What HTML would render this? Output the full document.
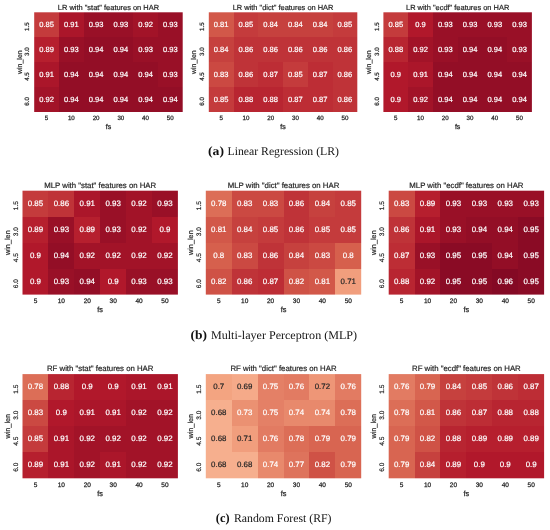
<!DOCTYPE html>
<html><head><meta charset="utf-8"><style>
html,body{margin:0;padding:0;background:#fff;}
body{width:550px;height:530px;overflow:hidden;}
svg{display:block;font-family:"Liberation Sans",sans-serif;text-rendering:geometricPrecision;will-change:transform;}
</style></head><body>
<svg width="550" height="530" viewBox="0 0 550 530">
<rect width="550" height="530" fill="#fff"/>
<rect x="34.20" y="12.30" width="24.80" height="24.70" fill="#c43b3c"/>
<rect x="59.00" y="12.30" width="25.00" height="24.70" fill="#ab162a"/>
<rect x="84.00" y="12.30" width="24.00" height="24.70" fill="#991027"/>
<rect x="108.00" y="12.30" width="25.00" height="24.70" fill="#991027"/>
<rect x="133.00" y="12.30" width="25.00" height="24.70" fill="#a21328"/>
<rect x="158.00" y="12.30" width="24.70" height="24.70" fill="#991027"/>
<rect x="34.20" y="37.00" width="24.80" height="25.00" fill="#b61f2e"/>
<rect x="59.00" y="37.00" width="25.00" height="25.00" fill="#991027"/>
<rect x="84.00" y="37.00" width="24.00" height="25.00" fill="#930e26"/>
<rect x="108.00" y="37.00" width="25.00" height="25.00" fill="#930e26"/>
<rect x="133.00" y="37.00" width="25.00" height="25.00" fill="#991027"/>
<rect x="158.00" y="37.00" width="24.70" height="25.00" fill="#991027"/>
<rect x="34.20" y="62.00" width="24.80" height="25.00" fill="#ab162a"/>
<rect x="59.00" y="62.00" width="25.00" height="25.00" fill="#930e26"/>
<rect x="84.00" y="62.00" width="24.00" height="25.00" fill="#930e26"/>
<rect x="108.00" y="62.00" width="25.00" height="25.00" fill="#930e26"/>
<rect x="133.00" y="62.00" width="25.00" height="25.00" fill="#930e26"/>
<rect x="158.00" y="62.00" width="24.70" height="25.00" fill="#991027"/>
<rect x="34.20" y="87.00" width="24.80" height="25.00" fill="#a21328"/>
<rect x="59.00" y="87.00" width="25.00" height="25.00" fill="#930e26"/>
<rect x="84.00" y="87.00" width="24.00" height="25.00" fill="#930e26"/>
<rect x="108.00" y="87.00" width="25.00" height="25.00" fill="#930e26"/>
<rect x="133.00" y="87.00" width="25.00" height="25.00" fill="#930e26"/>
<rect x="158.00" y="87.00" width="24.70" height="25.00" fill="#930e26"/>
<text x="46.58" y="26.80" font-size="7.54" text-anchor="middle" fill="#ffffff" stroke="#ffffff" stroke-width="0.2">0.85</text>
<text x="71.33" y="26.80" font-size="7.54" text-anchor="middle" fill="#ffffff" stroke="#ffffff" stroke-width="0.2">0.91</text>
<text x="96.08" y="26.80" font-size="7.54" text-anchor="middle" fill="#ffffff" stroke="#ffffff" stroke-width="0.2">0.93</text>
<text x="120.83" y="26.80" font-size="7.54" text-anchor="middle" fill="#ffffff" stroke="#ffffff" stroke-width="0.2">0.93</text>
<text x="145.57" y="26.80" font-size="7.54" text-anchor="middle" fill="#ffffff" stroke="#ffffff" stroke-width="0.2">0.92</text>
<text x="170.32" y="26.80" font-size="7.54" text-anchor="middle" fill="#ffffff" stroke="#ffffff" stroke-width="0.2">0.93</text>
<text x="46.58" y="51.72" font-size="7.54" text-anchor="middle" fill="#ffffff" stroke="#ffffff" stroke-width="0.2">0.89</text>
<text x="71.33" y="51.72" font-size="7.54" text-anchor="middle" fill="#ffffff" stroke="#ffffff" stroke-width="0.2">0.93</text>
<text x="96.08" y="51.72" font-size="7.54" text-anchor="middle" fill="#ffffff" stroke="#ffffff" stroke-width="0.2">0.94</text>
<text x="120.83" y="51.72" font-size="7.54" text-anchor="middle" fill="#ffffff" stroke="#ffffff" stroke-width="0.2">0.94</text>
<text x="145.57" y="51.72" font-size="7.54" text-anchor="middle" fill="#ffffff" stroke="#ffffff" stroke-width="0.2">0.93</text>
<text x="170.32" y="51.72" font-size="7.54" text-anchor="middle" fill="#ffffff" stroke="#ffffff" stroke-width="0.2">0.93</text>
<text x="46.58" y="76.65" font-size="7.54" text-anchor="middle" fill="#ffffff" stroke="#ffffff" stroke-width="0.2">0.91</text>
<text x="71.33" y="76.65" font-size="7.54" text-anchor="middle" fill="#ffffff" stroke="#ffffff" stroke-width="0.2">0.94</text>
<text x="96.08" y="76.65" font-size="7.54" text-anchor="middle" fill="#ffffff" stroke="#ffffff" stroke-width="0.2">0.94</text>
<text x="120.83" y="76.65" font-size="7.54" text-anchor="middle" fill="#ffffff" stroke="#ffffff" stroke-width="0.2">0.94</text>
<text x="145.57" y="76.65" font-size="7.54" text-anchor="middle" fill="#ffffff" stroke="#ffffff" stroke-width="0.2">0.94</text>
<text x="170.32" y="76.65" font-size="7.54" text-anchor="middle" fill="#ffffff" stroke="#ffffff" stroke-width="0.2">0.93</text>
<text x="46.58" y="101.57" font-size="7.54" text-anchor="middle" fill="#ffffff" stroke="#ffffff" stroke-width="0.2">0.92</text>
<text x="71.33" y="101.57" font-size="7.54" text-anchor="middle" fill="#ffffff" stroke="#ffffff" stroke-width="0.2">0.94</text>
<text x="96.08" y="101.57" font-size="7.54" text-anchor="middle" fill="#ffffff" stroke="#ffffff" stroke-width="0.2">0.94</text>
<text x="120.83" y="101.57" font-size="7.54" text-anchor="middle" fill="#ffffff" stroke="#ffffff" stroke-width="0.2">0.94</text>
<text x="145.57" y="101.57" font-size="7.54" text-anchor="middle" fill="#ffffff" stroke="#ffffff" stroke-width="0.2">0.94</text>
<text x="170.32" y="101.57" font-size="7.54" text-anchor="middle" fill="#ffffff" stroke="#ffffff" stroke-width="0.2">0.94</text>
<text x="108.45" y="9.90" font-size="7.45" text-anchor="middle" fill="#262626" stroke="#262626" stroke-width="0.2">LR with &quot;stat&quot; features on HAR</text>
<text x="46.58" y="119.83" font-size="6.21" text-anchor="middle" fill="#262626" stroke="#262626" stroke-width="0.25">5</text>
<text x="71.33" y="119.83" font-size="6.21" text-anchor="middle" fill="#262626" stroke="#262626" stroke-width="0.25">10</text>
<text x="96.08" y="119.83" font-size="6.21" text-anchor="middle" fill="#262626" stroke="#262626" stroke-width="0.25">20</text>
<text x="120.83" y="119.83" font-size="6.21" text-anchor="middle" fill="#262626" stroke="#262626" stroke-width="0.25">30</text>
<text x="145.57" y="119.83" font-size="6.21" text-anchor="middle" fill="#262626" stroke="#262626" stroke-width="0.25">40</text>
<text x="170.32" y="119.83" font-size="6.21" text-anchor="middle" fill="#262626" stroke="#262626" stroke-width="0.25">50</text>
<text x="108.45" y="128.62" font-size="6.97" text-anchor="middle" fill="#262626" stroke="#262626" stroke-width="0.25">fs</text>
<text transform="translate(29.33,26.67) rotate(-90) scale(1,1.0)" font-size="6.21" text-anchor="middle" fill="#262626" stroke="#262626" stroke-width="0.2">1.5</text>
<text transform="translate(29.33,51.60) rotate(-90) scale(1,1.0)" font-size="6.21" text-anchor="middle" fill="#262626" stroke="#262626" stroke-width="0.2">3.0</text>
<text transform="translate(29.33,76.52) rotate(-90) scale(1,1.0)" font-size="6.21" text-anchor="middle" fill="#262626" stroke="#262626" stroke-width="0.2">4.5</text>
<text transform="translate(29.33,101.45) rotate(-90) scale(1,1.0)" font-size="6.21" text-anchor="middle" fill="#262626" stroke="#262626" stroke-width="0.2">6.0</text>
<text transform="translate(21.79,62.15) rotate(-90) scale(1,1.0)" font-size="6.97" text-anchor="middle" fill="#262626" stroke="#262626" stroke-width="0.2">win_len</text>
<rect x="208.80" y="12.30" width="25.20" height="24.70" fill="#d25849"/>
<rect x="234.00" y="12.30" width="24.00" height="24.70" fill="#c43b3c"/>
<rect x="258.00" y="12.30" width="25.00" height="24.70" fill="#c6413e"/>
<rect x="283.00" y="12.30" width="25.00" height="24.70" fill="#c6413e"/>
<rect x="308.00" y="12.30" width="25.00" height="24.70" fill="#c6413e"/>
<rect x="333.00" y="12.30" width="24.30" height="24.70" fill="#c43b3c"/>
<rect x="208.80" y="37.00" width="25.20" height="25.00" fill="#c6413e"/>
<rect x="234.00" y="37.00" width="24.00" height="25.00" fill="#bf3338"/>
<rect x="258.00" y="37.00" width="25.00" height="25.00" fill="#bf3338"/>
<rect x="283.00" y="37.00" width="25.00" height="25.00" fill="#bf3338"/>
<rect x="308.00" y="37.00" width="25.00" height="25.00" fill="#bf3338"/>
<rect x="333.00" y="37.00" width="24.30" height="25.00" fill="#bf3338"/>
<rect x="208.80" y="62.00" width="25.20" height="25.00" fill="#cb4942"/>
<rect x="234.00" y="62.00" width="24.00" height="25.00" fill="#bf3338"/>
<rect x="258.00" y="62.00" width="25.00" height="25.00" fill="#bd2d35"/>
<rect x="283.00" y="62.00" width="25.00" height="25.00" fill="#c43b3c"/>
<rect x="308.00" y="62.00" width="25.00" height="25.00" fill="#bd2d35"/>
<rect x="333.00" y="62.00" width="24.30" height="25.00" fill="#bf3338"/>
<rect x="208.80" y="87.00" width="25.20" height="25.00" fill="#c43b3c"/>
<rect x="234.00" y="87.00" width="24.00" height="25.00" fill="#b82531"/>
<rect x="258.00" y="87.00" width="25.00" height="25.00" fill="#b82531"/>
<rect x="283.00" y="87.00" width="25.00" height="25.00" fill="#bd2d35"/>
<rect x="308.00" y="87.00" width="25.00" height="25.00" fill="#bd2d35"/>
<rect x="333.00" y="87.00" width="24.30" height="25.00" fill="#bf3338"/>
<text x="221.18" y="26.80" font-size="7.54" text-anchor="middle" fill="#ffffff" stroke="#ffffff" stroke-width="0.2">0.81</text>
<text x="245.93" y="26.80" font-size="7.54" text-anchor="middle" fill="#ffffff" stroke="#ffffff" stroke-width="0.2">0.85</text>
<text x="270.68" y="26.80" font-size="7.54" text-anchor="middle" fill="#ffffff" stroke="#ffffff" stroke-width="0.2">0.84</text>
<text x="295.43" y="26.80" font-size="7.54" text-anchor="middle" fill="#ffffff" stroke="#ffffff" stroke-width="0.2">0.84</text>
<text x="320.18" y="26.80" font-size="7.54" text-anchor="middle" fill="#ffffff" stroke="#ffffff" stroke-width="0.2">0.84</text>
<text x="344.93" y="26.80" font-size="7.54" text-anchor="middle" fill="#ffffff" stroke="#ffffff" stroke-width="0.2">0.85</text>
<text x="221.18" y="51.72" font-size="7.54" text-anchor="middle" fill="#ffffff" stroke="#ffffff" stroke-width="0.2">0.84</text>
<text x="245.93" y="51.72" font-size="7.54" text-anchor="middle" fill="#ffffff" stroke="#ffffff" stroke-width="0.2">0.86</text>
<text x="270.68" y="51.72" font-size="7.54" text-anchor="middle" fill="#ffffff" stroke="#ffffff" stroke-width="0.2">0.86</text>
<text x="295.43" y="51.72" font-size="7.54" text-anchor="middle" fill="#ffffff" stroke="#ffffff" stroke-width="0.2">0.86</text>
<text x="320.18" y="51.72" font-size="7.54" text-anchor="middle" fill="#ffffff" stroke="#ffffff" stroke-width="0.2">0.86</text>
<text x="344.93" y="51.72" font-size="7.54" text-anchor="middle" fill="#ffffff" stroke="#ffffff" stroke-width="0.2">0.86</text>
<text x="221.18" y="76.65" font-size="7.54" text-anchor="middle" fill="#ffffff" stroke="#ffffff" stroke-width="0.2">0.83</text>
<text x="245.93" y="76.65" font-size="7.54" text-anchor="middle" fill="#ffffff" stroke="#ffffff" stroke-width="0.2">0.86</text>
<text x="270.68" y="76.65" font-size="7.54" text-anchor="middle" fill="#ffffff" stroke="#ffffff" stroke-width="0.2">0.87</text>
<text x="295.43" y="76.65" font-size="7.54" text-anchor="middle" fill="#ffffff" stroke="#ffffff" stroke-width="0.2">0.85</text>
<text x="320.18" y="76.65" font-size="7.54" text-anchor="middle" fill="#ffffff" stroke="#ffffff" stroke-width="0.2">0.87</text>
<text x="344.93" y="76.65" font-size="7.54" text-anchor="middle" fill="#ffffff" stroke="#ffffff" stroke-width="0.2">0.86</text>
<text x="221.18" y="101.57" font-size="7.54" text-anchor="middle" fill="#ffffff" stroke="#ffffff" stroke-width="0.2">0.85</text>
<text x="245.93" y="101.57" font-size="7.54" text-anchor="middle" fill="#ffffff" stroke="#ffffff" stroke-width="0.2">0.88</text>
<text x="270.68" y="101.57" font-size="7.54" text-anchor="middle" fill="#ffffff" stroke="#ffffff" stroke-width="0.2">0.88</text>
<text x="295.43" y="101.57" font-size="7.54" text-anchor="middle" fill="#ffffff" stroke="#ffffff" stroke-width="0.2">0.87</text>
<text x="320.18" y="101.57" font-size="7.54" text-anchor="middle" fill="#ffffff" stroke="#ffffff" stroke-width="0.2">0.87</text>
<text x="344.93" y="101.57" font-size="7.54" text-anchor="middle" fill="#ffffff" stroke="#ffffff" stroke-width="0.2">0.86</text>
<text x="283.05" y="9.90" font-size="7.45" text-anchor="middle" fill="#262626" stroke="#262626" stroke-width="0.2">LR with &quot;dict&quot; features on HAR</text>
<text x="221.18" y="119.83" font-size="6.21" text-anchor="middle" fill="#262626" stroke="#262626" stroke-width="0.25">5</text>
<text x="245.93" y="119.83" font-size="6.21" text-anchor="middle" fill="#262626" stroke="#262626" stroke-width="0.25">10</text>
<text x="270.68" y="119.83" font-size="6.21" text-anchor="middle" fill="#262626" stroke="#262626" stroke-width="0.25">20</text>
<text x="295.43" y="119.83" font-size="6.21" text-anchor="middle" fill="#262626" stroke="#262626" stroke-width="0.25">30</text>
<text x="320.18" y="119.83" font-size="6.21" text-anchor="middle" fill="#262626" stroke="#262626" stroke-width="0.25">40</text>
<text x="344.93" y="119.83" font-size="6.21" text-anchor="middle" fill="#262626" stroke="#262626" stroke-width="0.25">50</text>
<text x="283.05" y="128.62" font-size="6.97" text-anchor="middle" fill="#262626" stroke="#262626" stroke-width="0.25">fs</text>
<text transform="translate(203.93,26.67) rotate(-90) scale(1,1.0)" font-size="6.21" text-anchor="middle" fill="#262626" stroke="#262626" stroke-width="0.2">1.5</text>
<text transform="translate(203.93,51.60) rotate(-90) scale(1,1.0)" font-size="6.21" text-anchor="middle" fill="#262626" stroke="#262626" stroke-width="0.2">3.0</text>
<text transform="translate(203.93,76.52) rotate(-90) scale(1,1.0)" font-size="6.21" text-anchor="middle" fill="#262626" stroke="#262626" stroke-width="0.2">4.5</text>
<text transform="translate(203.93,101.45) rotate(-90) scale(1,1.0)" font-size="6.21" text-anchor="middle" fill="#262626" stroke="#262626" stroke-width="0.2">6.0</text>
<text transform="translate(196.39,62.15) rotate(-90) scale(1,1.0)" font-size="6.97" text-anchor="middle" fill="#262626" stroke="#262626" stroke-width="0.2">win_len</text>
<rect x="383.40" y="12.30" width="24.60" height="24.70" fill="#c43b3c"/>
<rect x="408.00" y="12.30" width="25.00" height="24.70" fill="#b1182b"/>
<rect x="433.00" y="12.30" width="25.00" height="24.70" fill="#991027"/>
<rect x="458.00" y="12.30" width="24.00" height="24.70" fill="#991027"/>
<rect x="482.00" y="12.30" width="25.00" height="24.70" fill="#991027"/>
<rect x="507.00" y="12.30" width="24.90" height="24.70" fill="#991027"/>
<rect x="383.40" y="37.00" width="24.60" height="25.00" fill="#b82531"/>
<rect x="408.00" y="37.00" width="25.00" height="25.00" fill="#a21328"/>
<rect x="433.00" y="37.00" width="25.00" height="25.00" fill="#991027"/>
<rect x="458.00" y="37.00" width="24.00" height="25.00" fill="#930e26"/>
<rect x="482.00" y="37.00" width="25.00" height="25.00" fill="#930e26"/>
<rect x="507.00" y="37.00" width="24.90" height="25.00" fill="#991027"/>
<rect x="383.40" y="62.00" width="24.60" height="25.00" fill="#b1182b"/>
<rect x="408.00" y="62.00" width="25.00" height="25.00" fill="#ab162a"/>
<rect x="433.00" y="62.00" width="25.00" height="25.00" fill="#930e26"/>
<rect x="458.00" y="62.00" width="24.00" height="25.00" fill="#930e26"/>
<rect x="482.00" y="62.00" width="25.00" height="25.00" fill="#930e26"/>
<rect x="507.00" y="62.00" width="24.90" height="25.00" fill="#930e26"/>
<rect x="383.40" y="87.00" width="24.60" height="25.00" fill="#b1182b"/>
<rect x="408.00" y="87.00" width="25.00" height="25.00" fill="#a21328"/>
<rect x="433.00" y="87.00" width="25.00" height="25.00" fill="#930e26"/>
<rect x="458.00" y="87.00" width="24.00" height="25.00" fill="#930e26"/>
<rect x="482.00" y="87.00" width="25.00" height="25.00" fill="#930e26"/>
<rect x="507.00" y="87.00" width="24.90" height="25.00" fill="#930e26"/>
<text x="395.77" y="26.80" font-size="7.54" text-anchor="middle" fill="#ffffff" stroke="#ffffff" stroke-width="0.2">0.85</text>
<text x="420.52" y="26.80" font-size="7.54" text-anchor="middle" fill="#ffffff" stroke="#ffffff" stroke-width="0.2">0.9</text>
<text x="445.27" y="26.80" font-size="7.54" text-anchor="middle" fill="#ffffff" stroke="#ffffff" stroke-width="0.2">0.93</text>
<text x="470.02" y="26.80" font-size="7.54" text-anchor="middle" fill="#ffffff" stroke="#ffffff" stroke-width="0.2">0.93</text>
<text x="494.77" y="26.80" font-size="7.54" text-anchor="middle" fill="#ffffff" stroke="#ffffff" stroke-width="0.2">0.93</text>
<text x="519.52" y="26.80" font-size="7.54" text-anchor="middle" fill="#ffffff" stroke="#ffffff" stroke-width="0.2">0.93</text>
<text x="395.77" y="51.72" font-size="7.54" text-anchor="middle" fill="#ffffff" stroke="#ffffff" stroke-width="0.2">0.88</text>
<text x="420.52" y="51.72" font-size="7.54" text-anchor="middle" fill="#ffffff" stroke="#ffffff" stroke-width="0.2">0.92</text>
<text x="445.27" y="51.72" font-size="7.54" text-anchor="middle" fill="#ffffff" stroke="#ffffff" stroke-width="0.2">0.93</text>
<text x="470.02" y="51.72" font-size="7.54" text-anchor="middle" fill="#ffffff" stroke="#ffffff" stroke-width="0.2">0.94</text>
<text x="494.77" y="51.72" font-size="7.54" text-anchor="middle" fill="#ffffff" stroke="#ffffff" stroke-width="0.2">0.94</text>
<text x="519.52" y="51.72" font-size="7.54" text-anchor="middle" fill="#ffffff" stroke="#ffffff" stroke-width="0.2">0.93</text>
<text x="395.77" y="76.65" font-size="7.54" text-anchor="middle" fill="#ffffff" stroke="#ffffff" stroke-width="0.2">0.9</text>
<text x="420.52" y="76.65" font-size="7.54" text-anchor="middle" fill="#ffffff" stroke="#ffffff" stroke-width="0.2">0.91</text>
<text x="445.27" y="76.65" font-size="7.54" text-anchor="middle" fill="#ffffff" stroke="#ffffff" stroke-width="0.2">0.94</text>
<text x="470.02" y="76.65" font-size="7.54" text-anchor="middle" fill="#ffffff" stroke="#ffffff" stroke-width="0.2">0.94</text>
<text x="494.77" y="76.65" font-size="7.54" text-anchor="middle" fill="#ffffff" stroke="#ffffff" stroke-width="0.2">0.94</text>
<text x="519.52" y="76.65" font-size="7.54" text-anchor="middle" fill="#ffffff" stroke="#ffffff" stroke-width="0.2">0.94</text>
<text x="395.77" y="101.57" font-size="7.54" text-anchor="middle" fill="#ffffff" stroke="#ffffff" stroke-width="0.2">0.9</text>
<text x="420.52" y="101.57" font-size="7.54" text-anchor="middle" fill="#ffffff" stroke="#ffffff" stroke-width="0.2">0.92</text>
<text x="445.27" y="101.57" font-size="7.54" text-anchor="middle" fill="#ffffff" stroke="#ffffff" stroke-width="0.2">0.94</text>
<text x="470.02" y="101.57" font-size="7.54" text-anchor="middle" fill="#ffffff" stroke="#ffffff" stroke-width="0.2">0.94</text>
<text x="494.77" y="101.57" font-size="7.54" text-anchor="middle" fill="#ffffff" stroke="#ffffff" stroke-width="0.2">0.94</text>
<text x="519.52" y="101.57" font-size="7.54" text-anchor="middle" fill="#ffffff" stroke="#ffffff" stroke-width="0.2">0.94</text>
<text x="457.65" y="9.90" font-size="7.45" text-anchor="middle" fill="#262626" stroke="#262626" stroke-width="0.2">LR with &quot;ecdf&quot; features on HAR</text>
<text x="395.77" y="119.83" font-size="6.21" text-anchor="middle" fill="#262626" stroke="#262626" stroke-width="0.25">5</text>
<text x="420.52" y="119.83" font-size="6.21" text-anchor="middle" fill="#262626" stroke="#262626" stroke-width="0.25">10</text>
<text x="445.27" y="119.83" font-size="6.21" text-anchor="middle" fill="#262626" stroke="#262626" stroke-width="0.25">20</text>
<text x="470.02" y="119.83" font-size="6.21" text-anchor="middle" fill="#262626" stroke="#262626" stroke-width="0.25">30</text>
<text x="494.77" y="119.83" font-size="6.21" text-anchor="middle" fill="#262626" stroke="#262626" stroke-width="0.25">40</text>
<text x="519.52" y="119.83" font-size="6.21" text-anchor="middle" fill="#262626" stroke="#262626" stroke-width="0.25">50</text>
<text x="457.65" y="128.62" font-size="6.97" text-anchor="middle" fill="#262626" stroke="#262626" stroke-width="0.25">fs</text>
<text transform="translate(378.53,26.67) rotate(-90) scale(1,1.0)" font-size="6.21" text-anchor="middle" fill="#262626" stroke="#262626" stroke-width="0.2">1.5</text>
<text transform="translate(378.53,51.60) rotate(-90) scale(1,1.0)" font-size="6.21" text-anchor="middle" fill="#262626" stroke="#262626" stroke-width="0.2">3.0</text>
<text transform="translate(378.53,76.52) rotate(-90) scale(1,1.0)" font-size="6.21" text-anchor="middle" fill="#262626" stroke="#262626" stroke-width="0.2">4.5</text>
<text transform="translate(378.53,101.45) rotate(-90) scale(1,1.0)" font-size="6.21" text-anchor="middle" fill="#262626" stroke="#262626" stroke-width="0.2">6.0</text>
<text transform="translate(370.98,62.15) rotate(-90) scale(1,1.0)" font-size="6.97" text-anchor="middle" fill="#262626" stroke="#262626" stroke-width="0.2">win_len</text>
<rect x="22.50" y="190.70" width="25.50" height="26.30" fill="#c43b3c"/>
<rect x="48.00" y="190.70" width="26.00" height="26.30" fill="#bf3338"/>
<rect x="74.00" y="190.70" width="26.00" height="26.30" fill="#ab162a"/>
<rect x="100.00" y="190.70" width="26.00" height="26.30" fill="#991027"/>
<rect x="126.00" y="190.70" width="26.00" height="26.30" fill="#a21328"/>
<rect x="152.00" y="190.70" width="25.90" height="26.30" fill="#991027"/>
<rect x="22.50" y="217.00" width="25.50" height="26.00" fill="#b61f2e"/>
<rect x="48.00" y="217.00" width="26.00" height="26.00" fill="#991027"/>
<rect x="74.00" y="217.00" width="26.00" height="26.00" fill="#b61f2e"/>
<rect x="100.00" y="217.00" width="26.00" height="26.00" fill="#991027"/>
<rect x="126.00" y="217.00" width="26.00" height="26.00" fill="#a21328"/>
<rect x="152.00" y="217.00" width="25.90" height="26.00" fill="#b1182b"/>
<rect x="22.50" y="243.00" width="25.50" height="26.00" fill="#b1182b"/>
<rect x="48.00" y="243.00" width="26.00" height="26.00" fill="#930e26"/>
<rect x="74.00" y="243.00" width="26.00" height="26.00" fill="#a21328"/>
<rect x="100.00" y="243.00" width="26.00" height="26.00" fill="#a21328"/>
<rect x="126.00" y="243.00" width="26.00" height="26.00" fill="#a21328"/>
<rect x="152.00" y="243.00" width="25.90" height="26.00" fill="#a21328"/>
<rect x="22.50" y="269.00" width="25.50" height="25.60" fill="#b1182b"/>
<rect x="48.00" y="269.00" width="26.00" height="25.60" fill="#991027"/>
<rect x="74.00" y="269.00" width="26.00" height="25.60" fill="#930e26"/>
<rect x="100.00" y="269.00" width="26.00" height="25.60" fill="#b1182b"/>
<rect x="126.00" y="269.00" width="26.00" height="25.60" fill="#991027"/>
<rect x="152.00" y="269.00" width="25.90" height="25.60" fill="#991027"/>
<text x="35.45" y="205.82" font-size="7.90" text-anchor="middle" fill="#ffffff" stroke="#ffffff" stroke-width="0.2">0.85</text>
<text x="61.35" y="205.82" font-size="7.90" text-anchor="middle" fill="#ffffff" stroke="#ffffff" stroke-width="0.2">0.86</text>
<text x="87.25" y="205.82" font-size="7.90" text-anchor="middle" fill="#ffffff" stroke="#ffffff" stroke-width="0.2">0.91</text>
<text x="113.15" y="205.82" font-size="7.90" text-anchor="middle" fill="#ffffff" stroke="#ffffff" stroke-width="0.2">0.93</text>
<text x="139.05" y="205.82" font-size="7.90" text-anchor="middle" fill="#ffffff" stroke="#ffffff" stroke-width="0.2">0.92</text>
<text x="164.95" y="205.82" font-size="7.90" text-anchor="middle" fill="#ffffff" stroke="#ffffff" stroke-width="0.2">0.93</text>
<text x="35.45" y="231.80" font-size="7.90" text-anchor="middle" fill="#ffffff" stroke="#ffffff" stroke-width="0.2">0.89</text>
<text x="61.35" y="231.80" font-size="7.90" text-anchor="middle" fill="#ffffff" stroke="#ffffff" stroke-width="0.2">0.93</text>
<text x="87.25" y="231.80" font-size="7.90" text-anchor="middle" fill="#ffffff" stroke="#ffffff" stroke-width="0.2">0.89</text>
<text x="113.15" y="231.80" font-size="7.90" text-anchor="middle" fill="#ffffff" stroke="#ffffff" stroke-width="0.2">0.93</text>
<text x="139.05" y="231.80" font-size="7.90" text-anchor="middle" fill="#ffffff" stroke="#ffffff" stroke-width="0.2">0.92</text>
<text x="164.95" y="231.80" font-size="7.90" text-anchor="middle" fill="#ffffff" stroke="#ffffff" stroke-width="0.2">0.9</text>
<text x="35.45" y="257.77" font-size="7.90" text-anchor="middle" fill="#ffffff" stroke="#ffffff" stroke-width="0.2">0.9</text>
<text x="61.35" y="257.77" font-size="7.90" text-anchor="middle" fill="#ffffff" stroke="#ffffff" stroke-width="0.2">0.94</text>
<text x="87.25" y="257.77" font-size="7.90" text-anchor="middle" fill="#ffffff" stroke="#ffffff" stroke-width="0.2">0.92</text>
<text x="113.15" y="257.77" font-size="7.90" text-anchor="middle" fill="#ffffff" stroke="#ffffff" stroke-width="0.2">0.92</text>
<text x="139.05" y="257.77" font-size="7.90" text-anchor="middle" fill="#ffffff" stroke="#ffffff" stroke-width="0.2">0.92</text>
<text x="164.95" y="257.77" font-size="7.90" text-anchor="middle" fill="#ffffff" stroke="#ffffff" stroke-width="0.2">0.92</text>
<text x="35.45" y="283.75" font-size="7.90" text-anchor="middle" fill="#ffffff" stroke="#ffffff" stroke-width="0.2">0.9</text>
<text x="61.35" y="283.75" font-size="7.90" text-anchor="middle" fill="#ffffff" stroke="#ffffff" stroke-width="0.2">0.93</text>
<text x="87.25" y="283.75" font-size="7.90" text-anchor="middle" fill="#ffffff" stroke="#ffffff" stroke-width="0.2">0.94</text>
<text x="113.15" y="283.75" font-size="7.90" text-anchor="middle" fill="#ffffff" stroke="#ffffff" stroke-width="0.2">0.9</text>
<text x="139.05" y="283.75" font-size="7.90" text-anchor="middle" fill="#ffffff" stroke="#ffffff" stroke-width="0.2">0.93</text>
<text x="164.95" y="283.75" font-size="7.90" text-anchor="middle" fill="#ffffff" stroke="#ffffff" stroke-width="0.2">0.93</text>
<text x="100.20" y="187.60" font-size="7.80" text-anchor="middle" fill="#262626" stroke="#262626" stroke-width="0.2">MLP with &quot;stat&quot; features on HAR</text>
<text x="35.45" y="302.80" font-size="6.50" text-anchor="middle" fill="#262626" stroke="#262626" stroke-width="0.25">5</text>
<text x="61.35" y="302.80" font-size="6.50" text-anchor="middle" fill="#262626" stroke="#262626" stroke-width="0.25">10</text>
<text x="87.25" y="302.80" font-size="6.50" text-anchor="middle" fill="#262626" stroke="#262626" stroke-width="0.25">20</text>
<text x="113.15" y="302.80" font-size="6.50" text-anchor="middle" fill="#262626" stroke="#262626" stroke-width="0.25">30</text>
<text x="139.05" y="302.80" font-size="6.50" text-anchor="middle" fill="#262626" stroke="#262626" stroke-width="0.25">40</text>
<text x="164.95" y="302.80" font-size="6.50" text-anchor="middle" fill="#262626" stroke="#262626" stroke-width="0.25">50</text>
<text x="100.20" y="312.00" font-size="7.30" text-anchor="middle" fill="#262626" stroke="#262626" stroke-width="0.25">fs</text>
<text transform="translate(18.00,205.69) rotate(-90) scale(1,1.0)" font-size="6.50" text-anchor="middle" fill="#262626" stroke="#262626" stroke-width="0.2">1.5</text>
<text transform="translate(18.00,231.66) rotate(-90) scale(1,1.0)" font-size="6.50" text-anchor="middle" fill="#262626" stroke="#262626" stroke-width="0.2">3.0</text>
<text transform="translate(18.00,257.64) rotate(-90) scale(1,1.0)" font-size="6.50" text-anchor="middle" fill="#262626" stroke="#262626" stroke-width="0.2">4.5</text>
<text transform="translate(18.00,283.61) rotate(-90) scale(1,1.0)" font-size="6.50" text-anchor="middle" fill="#262626" stroke="#262626" stroke-width="0.2">6.0</text>
<text transform="translate(9.50,242.65) rotate(-90) scale(1,1.0)" font-size="7.30" text-anchor="middle" fill="#262626" stroke="#262626" stroke-width="0.2">win_len</text>
<rect x="205.80" y="190.70" width="26.20" height="26.30" fill="#dc6e57"/>
<rect x="232.00" y="190.70" width="26.00" height="26.30" fill="#cb4942"/>
<rect x="258.00" y="190.70" width="26.00" height="26.30" fill="#cb4942"/>
<rect x="284.00" y="190.70" width="25.00" height="26.30" fill="#bf3338"/>
<rect x="309.00" y="190.70" width="26.00" height="26.30" fill="#c6413e"/>
<rect x="335.00" y="190.70" width="26.20" height="26.30" fill="#c43b3c"/>
<rect x="205.80" y="217.00" width="26.20" height="26.00" fill="#d25849"/>
<rect x="232.00" y="217.00" width="26.00" height="26.00" fill="#c6413e"/>
<rect x="258.00" y="217.00" width="26.00" height="26.00" fill="#c43b3c"/>
<rect x="284.00" y="217.00" width="25.00" height="26.00" fill="#bf3338"/>
<rect x="309.00" y="217.00" width="26.00" height="26.00" fill="#c43b3c"/>
<rect x="335.00" y="217.00" width="26.20" height="26.00" fill="#c43b3c"/>
<rect x="205.80" y="243.00" width="26.20" height="26.00" fill="#d6604d"/>
<rect x="232.00" y="243.00" width="26.00" height="26.00" fill="#cb4942"/>
<rect x="258.00" y="243.00" width="26.00" height="26.00" fill="#bf3338"/>
<rect x="284.00" y="243.00" width="25.00" height="26.00" fill="#c6413e"/>
<rect x="309.00" y="243.00" width="26.00" height="26.00" fill="#cb4942"/>
<rect x="335.00" y="243.00" width="26.20" height="26.00" fill="#d6604d"/>
<rect x="205.80" y="269.00" width="26.20" height="25.60" fill="#cf5246"/>
<rect x="232.00" y="269.00" width="26.00" height="25.60" fill="#bf3338"/>
<rect x="258.00" y="269.00" width="26.00" height="25.60" fill="#bd2d35"/>
<rect x="284.00" y="269.00" width="25.00" height="25.60" fill="#cf5246"/>
<rect x="309.00" y="269.00" width="26.00" height="25.60" fill="#d25849"/>
<rect x="335.00" y="269.00" width="26.20" height="25.60" fill="#f19e7d"/>
<text x="218.75" y="205.82" font-size="7.90" text-anchor="middle" fill="#ffffff" stroke="#ffffff" stroke-width="0.2">0.78</text>
<text x="244.65" y="205.82" font-size="7.90" text-anchor="middle" fill="#ffffff" stroke="#ffffff" stroke-width="0.2">0.83</text>
<text x="270.55" y="205.82" font-size="7.90" text-anchor="middle" fill="#ffffff" stroke="#ffffff" stroke-width="0.2">0.83</text>
<text x="296.45" y="205.82" font-size="7.90" text-anchor="middle" fill="#ffffff" stroke="#ffffff" stroke-width="0.2">0.86</text>
<text x="322.35" y="205.82" font-size="7.90" text-anchor="middle" fill="#ffffff" stroke="#ffffff" stroke-width="0.2">0.84</text>
<text x="348.25" y="205.82" font-size="7.90" text-anchor="middle" fill="#ffffff" stroke="#ffffff" stroke-width="0.2">0.85</text>
<text x="218.75" y="231.80" font-size="7.90" text-anchor="middle" fill="#ffffff" stroke="#ffffff" stroke-width="0.2">0.81</text>
<text x="244.65" y="231.80" font-size="7.90" text-anchor="middle" fill="#ffffff" stroke="#ffffff" stroke-width="0.2">0.84</text>
<text x="270.55" y="231.80" font-size="7.90" text-anchor="middle" fill="#ffffff" stroke="#ffffff" stroke-width="0.2">0.85</text>
<text x="296.45" y="231.80" font-size="7.90" text-anchor="middle" fill="#ffffff" stroke="#ffffff" stroke-width="0.2">0.86</text>
<text x="322.35" y="231.80" font-size="7.90" text-anchor="middle" fill="#ffffff" stroke="#ffffff" stroke-width="0.2">0.85</text>
<text x="348.25" y="231.80" font-size="7.90" text-anchor="middle" fill="#ffffff" stroke="#ffffff" stroke-width="0.2">0.85</text>
<text x="218.75" y="257.77" font-size="7.90" text-anchor="middle" fill="#ffffff" stroke="#ffffff" stroke-width="0.2">0.8</text>
<text x="244.65" y="257.77" font-size="7.90" text-anchor="middle" fill="#ffffff" stroke="#ffffff" stroke-width="0.2">0.83</text>
<text x="270.55" y="257.77" font-size="7.90" text-anchor="middle" fill="#ffffff" stroke="#ffffff" stroke-width="0.2">0.86</text>
<text x="296.45" y="257.77" font-size="7.90" text-anchor="middle" fill="#ffffff" stroke="#ffffff" stroke-width="0.2">0.84</text>
<text x="322.35" y="257.77" font-size="7.90" text-anchor="middle" fill="#ffffff" stroke="#ffffff" stroke-width="0.2">0.83</text>
<text x="348.25" y="257.77" font-size="7.90" text-anchor="middle" fill="#ffffff" stroke="#ffffff" stroke-width="0.2">0.8</text>
<text x="218.75" y="283.75" font-size="7.90" text-anchor="middle" fill="#ffffff" stroke="#ffffff" stroke-width="0.2">0.82</text>
<text x="244.65" y="283.75" font-size="7.90" text-anchor="middle" fill="#ffffff" stroke="#ffffff" stroke-width="0.2">0.86</text>
<text x="270.55" y="283.75" font-size="7.90" text-anchor="middle" fill="#ffffff" stroke="#ffffff" stroke-width="0.2">0.87</text>
<text x="296.45" y="283.75" font-size="7.90" text-anchor="middle" fill="#ffffff" stroke="#ffffff" stroke-width="0.2">0.82</text>
<text x="322.35" y="283.75" font-size="7.90" text-anchor="middle" fill="#ffffff" stroke="#ffffff" stroke-width="0.2">0.81</text>
<text x="348.25" y="283.75" font-size="7.90" text-anchor="middle" fill="#262626" stroke="#262626" stroke-width="0.2">0.71</text>
<text x="283.50" y="187.60" font-size="7.80" text-anchor="middle" fill="#262626" stroke="#262626" stroke-width="0.2">MLP with &quot;dict&quot; features on HAR</text>
<text x="218.75" y="302.80" font-size="6.50" text-anchor="middle" fill="#262626" stroke="#262626" stroke-width="0.25">5</text>
<text x="244.65" y="302.80" font-size="6.50" text-anchor="middle" fill="#262626" stroke="#262626" stroke-width="0.25">10</text>
<text x="270.55" y="302.80" font-size="6.50" text-anchor="middle" fill="#262626" stroke="#262626" stroke-width="0.25">20</text>
<text x="296.45" y="302.80" font-size="6.50" text-anchor="middle" fill="#262626" stroke="#262626" stroke-width="0.25">30</text>
<text x="322.35" y="302.80" font-size="6.50" text-anchor="middle" fill="#262626" stroke="#262626" stroke-width="0.25">40</text>
<text x="348.25" y="302.80" font-size="6.50" text-anchor="middle" fill="#262626" stroke="#262626" stroke-width="0.25">50</text>
<text x="283.50" y="312.00" font-size="7.30" text-anchor="middle" fill="#262626" stroke="#262626" stroke-width="0.25">fs</text>
<text transform="translate(201.30,205.69) rotate(-90) scale(1,1.0)" font-size="6.50" text-anchor="middle" fill="#262626" stroke="#262626" stroke-width="0.2">1.5</text>
<text transform="translate(201.30,231.66) rotate(-90) scale(1,1.0)" font-size="6.50" text-anchor="middle" fill="#262626" stroke="#262626" stroke-width="0.2">3.0</text>
<text transform="translate(201.30,257.64) rotate(-90) scale(1,1.0)" font-size="6.50" text-anchor="middle" fill="#262626" stroke="#262626" stroke-width="0.2">4.5</text>
<text transform="translate(201.30,283.61) rotate(-90) scale(1,1.0)" font-size="6.50" text-anchor="middle" fill="#262626" stroke="#262626" stroke-width="0.2">6.0</text>
<text transform="translate(192.80,242.65) rotate(-90) scale(1,1.0)" font-size="7.30" text-anchor="middle" fill="#262626" stroke="#262626" stroke-width="0.2">win_len</text>
<rect x="388.70" y="190.70" width="26.30" height="26.30" fill="#cb4942"/>
<rect x="415.00" y="190.70" width="25.00" height="26.30" fill="#b61f2e"/>
<rect x="440.00" y="190.70" width="26.00" height="26.30" fill="#991027"/>
<rect x="466.00" y="190.70" width="26.00" height="26.30" fill="#991027"/>
<rect x="492.00" y="190.70" width="26.00" height="26.30" fill="#991027"/>
<rect x="518.00" y="190.70" width="26.10" height="26.30" fill="#991027"/>
<rect x="388.70" y="217.00" width="26.30" height="26.00" fill="#bf3338"/>
<rect x="415.00" y="217.00" width="25.00" height="26.00" fill="#ab162a"/>
<rect x="440.00" y="217.00" width="26.00" height="26.00" fill="#991027"/>
<rect x="466.00" y="217.00" width="26.00" height="26.00" fill="#930e26"/>
<rect x="492.00" y="217.00" width="26.00" height="26.00" fill="#930e26"/>
<rect x="518.00" y="217.00" width="26.10" height="26.00" fill="#8a0b25"/>
<rect x="388.70" y="243.00" width="26.30" height="26.00" fill="#bd2d35"/>
<rect x="415.00" y="243.00" width="25.00" height="26.00" fill="#991027"/>
<rect x="440.00" y="243.00" width="26.00" height="26.00" fill="#8a0b25"/>
<rect x="466.00" y="243.00" width="26.00" height="26.00" fill="#8a0b25"/>
<rect x="492.00" y="243.00" width="26.00" height="26.00" fill="#930e26"/>
<rect x="518.00" y="243.00" width="26.10" height="26.00" fill="#8a0b25"/>
<rect x="388.70" y="269.00" width="26.30" height="25.60" fill="#b82531"/>
<rect x="415.00" y="269.00" width="25.00" height="25.60" fill="#a21328"/>
<rect x="440.00" y="269.00" width="26.00" height="25.60" fill="#8a0b25"/>
<rect x="466.00" y="269.00" width="26.00" height="25.60" fill="#8a0b25"/>
<rect x="492.00" y="269.00" width="26.00" height="25.60" fill="#840924"/>
<rect x="518.00" y="269.00" width="26.10" height="25.60" fill="#8a0b25"/>
<text x="401.65" y="205.82" font-size="7.90" text-anchor="middle" fill="#ffffff" stroke="#ffffff" stroke-width="0.2">0.83</text>
<text x="427.55" y="205.82" font-size="7.90" text-anchor="middle" fill="#ffffff" stroke="#ffffff" stroke-width="0.2">0.89</text>
<text x="453.45" y="205.82" font-size="7.90" text-anchor="middle" fill="#ffffff" stroke="#ffffff" stroke-width="0.2">0.93</text>
<text x="479.35" y="205.82" font-size="7.90" text-anchor="middle" fill="#ffffff" stroke="#ffffff" stroke-width="0.2">0.93</text>
<text x="505.25" y="205.82" font-size="7.90" text-anchor="middle" fill="#ffffff" stroke="#ffffff" stroke-width="0.2">0.93</text>
<text x="531.15" y="205.82" font-size="7.90" text-anchor="middle" fill="#ffffff" stroke="#ffffff" stroke-width="0.2">0.93</text>
<text x="401.65" y="231.80" font-size="7.90" text-anchor="middle" fill="#ffffff" stroke="#ffffff" stroke-width="0.2">0.86</text>
<text x="427.55" y="231.80" font-size="7.90" text-anchor="middle" fill="#ffffff" stroke="#ffffff" stroke-width="0.2">0.91</text>
<text x="453.45" y="231.80" font-size="7.90" text-anchor="middle" fill="#ffffff" stroke="#ffffff" stroke-width="0.2">0.93</text>
<text x="479.35" y="231.80" font-size="7.90" text-anchor="middle" fill="#ffffff" stroke="#ffffff" stroke-width="0.2">0.94</text>
<text x="505.25" y="231.80" font-size="7.90" text-anchor="middle" fill="#ffffff" stroke="#ffffff" stroke-width="0.2">0.94</text>
<text x="531.15" y="231.80" font-size="7.90" text-anchor="middle" fill="#ffffff" stroke="#ffffff" stroke-width="0.2">0.95</text>
<text x="401.65" y="257.77" font-size="7.90" text-anchor="middle" fill="#ffffff" stroke="#ffffff" stroke-width="0.2">0.87</text>
<text x="427.55" y="257.77" font-size="7.90" text-anchor="middle" fill="#ffffff" stroke="#ffffff" stroke-width="0.2">0.93</text>
<text x="453.45" y="257.77" font-size="7.90" text-anchor="middle" fill="#ffffff" stroke="#ffffff" stroke-width="0.2">0.95</text>
<text x="479.35" y="257.77" font-size="7.90" text-anchor="middle" fill="#ffffff" stroke="#ffffff" stroke-width="0.2">0.95</text>
<text x="505.25" y="257.77" font-size="7.90" text-anchor="middle" fill="#ffffff" stroke="#ffffff" stroke-width="0.2">0.94</text>
<text x="531.15" y="257.77" font-size="7.90" text-anchor="middle" fill="#ffffff" stroke="#ffffff" stroke-width="0.2">0.95</text>
<text x="401.65" y="283.75" font-size="7.90" text-anchor="middle" fill="#ffffff" stroke="#ffffff" stroke-width="0.2">0.88</text>
<text x="427.55" y="283.75" font-size="7.90" text-anchor="middle" fill="#ffffff" stroke="#ffffff" stroke-width="0.2">0.92</text>
<text x="453.45" y="283.75" font-size="7.90" text-anchor="middle" fill="#ffffff" stroke="#ffffff" stroke-width="0.2">0.95</text>
<text x="479.35" y="283.75" font-size="7.90" text-anchor="middle" fill="#ffffff" stroke="#ffffff" stroke-width="0.2">0.95</text>
<text x="505.25" y="283.75" font-size="7.90" text-anchor="middle" fill="#ffffff" stroke="#ffffff" stroke-width="0.2">0.96</text>
<text x="531.15" y="283.75" font-size="7.90" text-anchor="middle" fill="#ffffff" stroke="#ffffff" stroke-width="0.2">0.95</text>
<text x="466.40" y="187.60" font-size="7.80" text-anchor="middle" fill="#262626" stroke="#262626" stroke-width="0.2">MLP with &quot;ecdf&quot; features on HAR</text>
<text x="401.65" y="302.80" font-size="6.50" text-anchor="middle" fill="#262626" stroke="#262626" stroke-width="0.25">5</text>
<text x="427.55" y="302.80" font-size="6.50" text-anchor="middle" fill="#262626" stroke="#262626" stroke-width="0.25">10</text>
<text x="453.45" y="302.80" font-size="6.50" text-anchor="middle" fill="#262626" stroke="#262626" stroke-width="0.25">20</text>
<text x="479.35" y="302.80" font-size="6.50" text-anchor="middle" fill="#262626" stroke="#262626" stroke-width="0.25">30</text>
<text x="505.25" y="302.80" font-size="6.50" text-anchor="middle" fill="#262626" stroke="#262626" stroke-width="0.25">40</text>
<text x="531.15" y="302.80" font-size="6.50" text-anchor="middle" fill="#262626" stroke="#262626" stroke-width="0.25">50</text>
<text x="466.40" y="312.00" font-size="7.30" text-anchor="middle" fill="#262626" stroke="#262626" stroke-width="0.25">fs</text>
<text transform="translate(384.20,205.69) rotate(-90) scale(1,1.0)" font-size="6.50" text-anchor="middle" fill="#262626" stroke="#262626" stroke-width="0.2">1.5</text>
<text transform="translate(384.20,231.66) rotate(-90) scale(1,1.0)" font-size="6.50" text-anchor="middle" fill="#262626" stroke="#262626" stroke-width="0.2">3.0</text>
<text transform="translate(384.20,257.64) rotate(-90) scale(1,1.0)" font-size="6.50" text-anchor="middle" fill="#262626" stroke="#262626" stroke-width="0.2">4.5</text>
<text transform="translate(384.20,283.61) rotate(-90) scale(1,1.0)" font-size="6.50" text-anchor="middle" fill="#262626" stroke="#262626" stroke-width="0.2">6.0</text>
<text transform="translate(375.70,242.65) rotate(-90) scale(1,1.0)" font-size="7.30" text-anchor="middle" fill="#262626" stroke="#262626" stroke-width="0.2">win_len</text>
<rect x="22.50" y="374.10" width="25.50" height="25.90" fill="#dc6e57"/>
<rect x="48.00" y="374.10" width="26.00" height="25.90" fill="#b82531"/>
<rect x="74.00" y="374.10" width="26.00" height="25.90" fill="#b1182b"/>
<rect x="100.00" y="374.10" width="26.00" height="25.90" fill="#b1182b"/>
<rect x="126.00" y="374.10" width="26.00" height="25.90" fill="#ab162a"/>
<rect x="152.00" y="374.10" width="25.90" height="25.90" fill="#ab162a"/>
<rect x="22.50" y="400.00" width="25.50" height="26.00" fill="#cb4942"/>
<rect x="48.00" y="400.00" width="26.00" height="26.00" fill="#b1182b"/>
<rect x="74.00" y="400.00" width="26.00" height="26.00" fill="#ab162a"/>
<rect x="100.00" y="400.00" width="26.00" height="26.00" fill="#ab162a"/>
<rect x="126.00" y="400.00" width="26.00" height="26.00" fill="#a21328"/>
<rect x="152.00" y="400.00" width="25.90" height="26.00" fill="#a21328"/>
<rect x="22.50" y="426.00" width="25.50" height="26.00" fill="#c43b3c"/>
<rect x="48.00" y="426.00" width="26.00" height="26.00" fill="#ab162a"/>
<rect x="74.00" y="426.00" width="26.00" height="26.00" fill="#a21328"/>
<rect x="100.00" y="426.00" width="26.00" height="26.00" fill="#a21328"/>
<rect x="126.00" y="426.00" width="26.00" height="26.00" fill="#a21328"/>
<rect x="152.00" y="426.00" width="25.90" height="26.00" fill="#a21328"/>
<rect x="22.50" y="452.00" width="25.50" height="26.30" fill="#b61f2e"/>
<rect x="48.00" y="452.00" width="26.00" height="26.30" fill="#ab162a"/>
<rect x="74.00" y="452.00" width="26.00" height="26.30" fill="#a21328"/>
<rect x="100.00" y="452.00" width="26.00" height="26.30" fill="#ab162a"/>
<rect x="126.00" y="452.00" width="26.00" height="26.30" fill="#a21328"/>
<rect x="152.00" y="452.00" width="25.90" height="26.30" fill="#a21328"/>
<text x="35.45" y="389.26" font-size="7.90" text-anchor="middle" fill="#ffffff" stroke="#ffffff" stroke-width="0.2">0.78</text>
<text x="61.35" y="389.26" font-size="7.90" text-anchor="middle" fill="#ffffff" stroke="#ffffff" stroke-width="0.2">0.88</text>
<text x="87.25" y="389.26" font-size="7.90" text-anchor="middle" fill="#ffffff" stroke="#ffffff" stroke-width="0.2">0.9</text>
<text x="113.15" y="389.26" font-size="7.90" text-anchor="middle" fill="#ffffff" stroke="#ffffff" stroke-width="0.2">0.9</text>
<text x="139.05" y="389.26" font-size="7.90" text-anchor="middle" fill="#ffffff" stroke="#ffffff" stroke-width="0.2">0.91</text>
<text x="164.95" y="389.26" font-size="7.90" text-anchor="middle" fill="#ffffff" stroke="#ffffff" stroke-width="0.2">0.91</text>
<text x="35.45" y="415.31" font-size="7.90" text-anchor="middle" fill="#ffffff" stroke="#ffffff" stroke-width="0.2">0.83</text>
<text x="61.35" y="415.31" font-size="7.90" text-anchor="middle" fill="#ffffff" stroke="#ffffff" stroke-width="0.2">0.9</text>
<text x="87.25" y="415.31" font-size="7.90" text-anchor="middle" fill="#ffffff" stroke="#ffffff" stroke-width="0.2">0.91</text>
<text x="113.15" y="415.31" font-size="7.90" text-anchor="middle" fill="#ffffff" stroke="#ffffff" stroke-width="0.2">0.91</text>
<text x="139.05" y="415.31" font-size="7.90" text-anchor="middle" fill="#ffffff" stroke="#ffffff" stroke-width="0.2">0.92</text>
<text x="164.95" y="415.31" font-size="7.90" text-anchor="middle" fill="#ffffff" stroke="#ffffff" stroke-width="0.2">0.92</text>
<text x="35.45" y="441.36" font-size="7.90" text-anchor="middle" fill="#ffffff" stroke="#ffffff" stroke-width="0.2">0.85</text>
<text x="61.35" y="441.36" font-size="7.90" text-anchor="middle" fill="#ffffff" stroke="#ffffff" stroke-width="0.2">0.91</text>
<text x="87.25" y="441.36" font-size="7.90" text-anchor="middle" fill="#ffffff" stroke="#ffffff" stroke-width="0.2">0.92</text>
<text x="113.15" y="441.36" font-size="7.90" text-anchor="middle" fill="#ffffff" stroke="#ffffff" stroke-width="0.2">0.92</text>
<text x="139.05" y="441.36" font-size="7.90" text-anchor="middle" fill="#ffffff" stroke="#ffffff" stroke-width="0.2">0.92</text>
<text x="164.95" y="441.36" font-size="7.90" text-anchor="middle" fill="#ffffff" stroke="#ffffff" stroke-width="0.2">0.92</text>
<text x="35.45" y="467.41" font-size="7.90" text-anchor="middle" fill="#ffffff" stroke="#ffffff" stroke-width="0.2">0.89</text>
<text x="61.35" y="467.41" font-size="7.90" text-anchor="middle" fill="#ffffff" stroke="#ffffff" stroke-width="0.2">0.91</text>
<text x="87.25" y="467.41" font-size="7.90" text-anchor="middle" fill="#ffffff" stroke="#ffffff" stroke-width="0.2">0.92</text>
<text x="113.15" y="467.41" font-size="7.90" text-anchor="middle" fill="#ffffff" stroke="#ffffff" stroke-width="0.2">0.91</text>
<text x="139.05" y="467.41" font-size="7.90" text-anchor="middle" fill="#ffffff" stroke="#ffffff" stroke-width="0.2">0.92</text>
<text x="164.95" y="467.41" font-size="7.90" text-anchor="middle" fill="#ffffff" stroke="#ffffff" stroke-width="0.2">0.92</text>
<text x="100.20" y="370.90" font-size="7.80" text-anchor="middle" fill="#262626" stroke="#262626" stroke-width="0.2">RF with &quot;stat&quot; features on HAR</text>
<text x="35.45" y="486.50" font-size="6.50" text-anchor="middle" fill="#262626" stroke="#262626" stroke-width="0.25">5</text>
<text x="61.35" y="486.50" font-size="6.50" text-anchor="middle" fill="#262626" stroke="#262626" stroke-width="0.25">10</text>
<text x="87.25" y="486.50" font-size="6.50" text-anchor="middle" fill="#262626" stroke="#262626" stroke-width="0.25">20</text>
<text x="113.15" y="486.50" font-size="6.50" text-anchor="middle" fill="#262626" stroke="#262626" stroke-width="0.25">30</text>
<text x="139.05" y="486.50" font-size="6.50" text-anchor="middle" fill="#262626" stroke="#262626" stroke-width="0.25">40</text>
<text x="164.95" y="486.50" font-size="6.50" text-anchor="middle" fill="#262626" stroke="#262626" stroke-width="0.25">50</text>
<text x="100.20" y="495.70" font-size="7.30" text-anchor="middle" fill="#262626" stroke="#262626" stroke-width="0.25">fs</text>
<text transform="translate(18.00,389.12) rotate(-90) scale(1,1.0)" font-size="6.50" text-anchor="middle" fill="#262626" stroke="#262626" stroke-width="0.2">1.5</text>
<text transform="translate(18.00,415.18) rotate(-90) scale(1,1.0)" font-size="6.50" text-anchor="middle" fill="#262626" stroke="#262626" stroke-width="0.2">3.0</text>
<text transform="translate(18.00,441.23) rotate(-90) scale(1,1.0)" font-size="6.50" text-anchor="middle" fill="#262626" stroke="#262626" stroke-width="0.2">4.5</text>
<text transform="translate(18.00,467.28) rotate(-90) scale(1,1.0)" font-size="6.50" text-anchor="middle" fill="#262626" stroke="#262626" stroke-width="0.2">6.0</text>
<text transform="translate(9.50,426.20) rotate(-90) scale(1,1.0)" font-size="7.30" text-anchor="middle" fill="#262626" stroke="#262626" stroke-width="0.2">win_len</text>
<rect x="205.80" y="374.10" width="26.20" height="25.90" fill="#f3a481"/>
<rect x="232.00" y="374.10" width="26.00" height="25.90" fill="#f5aa89"/>
<rect x="258.00" y="374.10" width="26.00" height="25.90" fill="#e48066"/>
<rect x="284.00" y="374.10" width="25.00" height="25.90" fill="#e27b62"/>
<rect x="309.00" y="374.10" width="26.00" height="25.90" fill="#ee9677"/>
<rect x="335.00" y="374.10" width="26.20" height="25.90" fill="#e27b62"/>
<rect x="205.80" y="400.00" width="26.20" height="26.00" fill="#f6af8e"/>
<rect x="232.00" y="400.00" width="26.00" height="26.00" fill="#eb9172"/>
<rect x="258.00" y="400.00" width="26.00" height="26.00" fill="#e48066"/>
<rect x="284.00" y="400.00" width="25.00" height="26.00" fill="#e8896c"/>
<rect x="309.00" y="400.00" width="26.00" height="26.00" fill="#e8896c"/>
<rect x="335.00" y="400.00" width="26.20" height="26.00" fill="#dc6e57"/>
<rect x="205.80" y="426.00" width="26.20" height="26.00" fill="#f6af8e"/>
<rect x="232.00" y="426.00" width="26.00" height="26.00" fill="#f19e7d"/>
<rect x="258.00" y="426.00" width="26.00" height="26.00" fill="#e27b62"/>
<rect x="284.00" y="426.00" width="25.00" height="26.00" fill="#dc6e57"/>
<rect x="309.00" y="426.00" width="26.00" height="26.00" fill="#d86551"/>
<rect x="335.00" y="426.00" width="26.20" height="26.00" fill="#d86551"/>
<rect x="205.80" y="452.00" width="26.20" height="26.30" fill="#f6af8e"/>
<rect x="232.00" y="452.00" width="26.00" height="26.30" fill="#f6af8e"/>
<rect x="258.00" y="452.00" width="26.00" height="26.30" fill="#e8896c"/>
<rect x="284.00" y="452.00" width="25.00" height="26.30" fill="#de735c"/>
<rect x="309.00" y="452.00" width="26.00" height="26.30" fill="#cf5246"/>
<rect x="335.00" y="452.00" width="26.20" height="26.30" fill="#d86551"/>
<text x="218.75" y="389.26" font-size="7.90" text-anchor="middle" fill="#262626" stroke="#262626" stroke-width="0.2">0.7</text>
<text x="244.65" y="389.26" font-size="7.90" text-anchor="middle" fill="#262626" stroke="#262626" stroke-width="0.2">0.69</text>
<text x="270.55" y="389.26" font-size="7.90" text-anchor="middle" fill="#ffffff" stroke="#ffffff" stroke-width="0.2">0.75</text>
<text x="296.45" y="389.26" font-size="7.90" text-anchor="middle" fill="#ffffff" stroke="#ffffff" stroke-width="0.2">0.76</text>
<text x="322.35" y="389.26" font-size="7.90" text-anchor="middle" fill="#262626" stroke="#262626" stroke-width="0.2">0.72</text>
<text x="348.25" y="389.26" font-size="7.90" text-anchor="middle" fill="#ffffff" stroke="#ffffff" stroke-width="0.2">0.76</text>
<text x="218.75" y="415.31" font-size="7.90" text-anchor="middle" fill="#262626" stroke="#262626" stroke-width="0.2">0.68</text>
<text x="244.65" y="415.31" font-size="7.90" text-anchor="middle" fill="#ffffff" stroke="#ffffff" stroke-width="0.2">0.73</text>
<text x="270.55" y="415.31" font-size="7.90" text-anchor="middle" fill="#ffffff" stroke="#ffffff" stroke-width="0.2">0.75</text>
<text x="296.45" y="415.31" font-size="7.90" text-anchor="middle" fill="#ffffff" stroke="#ffffff" stroke-width="0.2">0.74</text>
<text x="322.35" y="415.31" font-size="7.90" text-anchor="middle" fill="#ffffff" stroke="#ffffff" stroke-width="0.2">0.74</text>
<text x="348.25" y="415.31" font-size="7.90" text-anchor="middle" fill="#ffffff" stroke="#ffffff" stroke-width="0.2">0.78</text>
<text x="218.75" y="441.36" font-size="7.90" text-anchor="middle" fill="#262626" stroke="#262626" stroke-width="0.2">0.68</text>
<text x="244.65" y="441.36" font-size="7.90" text-anchor="middle" fill="#262626" stroke="#262626" stroke-width="0.2">0.71</text>
<text x="270.55" y="441.36" font-size="7.90" text-anchor="middle" fill="#ffffff" stroke="#ffffff" stroke-width="0.2">0.76</text>
<text x="296.45" y="441.36" font-size="7.90" text-anchor="middle" fill="#ffffff" stroke="#ffffff" stroke-width="0.2">0.78</text>
<text x="322.35" y="441.36" font-size="7.90" text-anchor="middle" fill="#ffffff" stroke="#ffffff" stroke-width="0.2">0.79</text>
<text x="348.25" y="441.36" font-size="7.90" text-anchor="middle" fill="#ffffff" stroke="#ffffff" stroke-width="0.2">0.79</text>
<text x="218.75" y="467.41" font-size="7.90" text-anchor="middle" fill="#262626" stroke="#262626" stroke-width="0.2">0.68</text>
<text x="244.65" y="467.41" font-size="7.90" text-anchor="middle" fill="#262626" stroke="#262626" stroke-width="0.2">0.68</text>
<text x="270.55" y="467.41" font-size="7.90" text-anchor="middle" fill="#ffffff" stroke="#ffffff" stroke-width="0.2">0.74</text>
<text x="296.45" y="467.41" font-size="7.90" text-anchor="middle" fill="#ffffff" stroke="#ffffff" stroke-width="0.2">0.77</text>
<text x="322.35" y="467.41" font-size="7.90" text-anchor="middle" fill="#ffffff" stroke="#ffffff" stroke-width="0.2">0.82</text>
<text x="348.25" y="467.41" font-size="7.90" text-anchor="middle" fill="#ffffff" stroke="#ffffff" stroke-width="0.2">0.79</text>
<text x="283.50" y="370.90" font-size="7.80" text-anchor="middle" fill="#262626" stroke="#262626" stroke-width="0.2">RF with &quot;dict&quot; features on HAR</text>
<text x="218.75" y="486.50" font-size="6.50" text-anchor="middle" fill="#262626" stroke="#262626" stroke-width="0.25">5</text>
<text x="244.65" y="486.50" font-size="6.50" text-anchor="middle" fill="#262626" stroke="#262626" stroke-width="0.25">10</text>
<text x="270.55" y="486.50" font-size="6.50" text-anchor="middle" fill="#262626" stroke="#262626" stroke-width="0.25">20</text>
<text x="296.45" y="486.50" font-size="6.50" text-anchor="middle" fill="#262626" stroke="#262626" stroke-width="0.25">30</text>
<text x="322.35" y="486.50" font-size="6.50" text-anchor="middle" fill="#262626" stroke="#262626" stroke-width="0.25">40</text>
<text x="348.25" y="486.50" font-size="6.50" text-anchor="middle" fill="#262626" stroke="#262626" stroke-width="0.25">50</text>
<text x="283.50" y="495.70" font-size="7.30" text-anchor="middle" fill="#262626" stroke="#262626" stroke-width="0.25">fs</text>
<text transform="translate(201.30,389.12) rotate(-90) scale(1,1.0)" font-size="6.50" text-anchor="middle" fill="#262626" stroke="#262626" stroke-width="0.2">1.5</text>
<text transform="translate(201.30,415.18) rotate(-90) scale(1,1.0)" font-size="6.50" text-anchor="middle" fill="#262626" stroke="#262626" stroke-width="0.2">3.0</text>
<text transform="translate(201.30,441.23) rotate(-90) scale(1,1.0)" font-size="6.50" text-anchor="middle" fill="#262626" stroke="#262626" stroke-width="0.2">4.5</text>
<text transform="translate(201.30,467.28) rotate(-90) scale(1,1.0)" font-size="6.50" text-anchor="middle" fill="#262626" stroke="#262626" stroke-width="0.2">6.0</text>
<text transform="translate(192.80,426.20) rotate(-90) scale(1,1.0)" font-size="7.30" text-anchor="middle" fill="#262626" stroke="#262626" stroke-width="0.2">win_len</text>
<rect x="388.70" y="374.10" width="26.30" height="25.90" fill="#e27b62"/>
<rect x="415.00" y="374.10" width="25.00" height="25.90" fill="#d86551"/>
<rect x="440.00" y="374.10" width="26.00" height="25.90" fill="#c6413e"/>
<rect x="466.00" y="374.10" width="26.00" height="25.90" fill="#c43b3c"/>
<rect x="492.00" y="374.10" width="26.00" height="25.90" fill="#bf3338"/>
<rect x="518.00" y="374.10" width="26.10" height="25.90" fill="#bd2d35"/>
<rect x="388.70" y="400.00" width="26.30" height="26.00" fill="#dc6e57"/>
<rect x="415.00" y="400.00" width="25.00" height="26.00" fill="#d25849"/>
<rect x="440.00" y="400.00" width="26.00" height="26.00" fill="#bf3338"/>
<rect x="466.00" y="400.00" width="26.00" height="26.00" fill="#bd2d35"/>
<rect x="492.00" y="400.00" width="26.00" height="26.00" fill="#b82531"/>
<rect x="518.00" y="400.00" width="26.10" height="26.00" fill="#b82531"/>
<rect x="388.70" y="426.00" width="26.30" height="26.00" fill="#d86551"/>
<rect x="415.00" y="426.00" width="25.00" height="26.00" fill="#cf5246"/>
<rect x="440.00" y="426.00" width="26.00" height="26.00" fill="#b82531"/>
<rect x="466.00" y="426.00" width="26.00" height="26.00" fill="#b61f2e"/>
<rect x="492.00" y="426.00" width="26.00" height="26.00" fill="#b61f2e"/>
<rect x="518.00" y="426.00" width="26.10" height="26.00" fill="#b61f2e"/>
<rect x="388.70" y="452.00" width="26.30" height="26.30" fill="#d86551"/>
<rect x="415.00" y="452.00" width="25.00" height="26.30" fill="#c6413e"/>
<rect x="440.00" y="452.00" width="26.00" height="26.30" fill="#b61f2e"/>
<rect x="466.00" y="452.00" width="26.00" height="26.30" fill="#b1182b"/>
<rect x="492.00" y="452.00" width="26.00" height="26.30" fill="#b1182b"/>
<rect x="518.00" y="452.00" width="26.10" height="26.30" fill="#b1182b"/>
<text x="401.65" y="389.26" font-size="7.90" text-anchor="middle" fill="#ffffff" stroke="#ffffff" stroke-width="0.2">0.76</text>
<text x="427.55" y="389.26" font-size="7.90" text-anchor="middle" fill="#ffffff" stroke="#ffffff" stroke-width="0.2">0.79</text>
<text x="453.45" y="389.26" font-size="7.90" text-anchor="middle" fill="#ffffff" stroke="#ffffff" stroke-width="0.2">0.84</text>
<text x="479.35" y="389.26" font-size="7.90" text-anchor="middle" fill="#ffffff" stroke="#ffffff" stroke-width="0.2">0.85</text>
<text x="505.25" y="389.26" font-size="7.90" text-anchor="middle" fill="#ffffff" stroke="#ffffff" stroke-width="0.2">0.86</text>
<text x="531.15" y="389.26" font-size="7.90" text-anchor="middle" fill="#ffffff" stroke="#ffffff" stroke-width="0.2">0.87</text>
<text x="401.65" y="415.31" font-size="7.90" text-anchor="middle" fill="#ffffff" stroke="#ffffff" stroke-width="0.2">0.78</text>
<text x="427.55" y="415.31" font-size="7.90" text-anchor="middle" fill="#ffffff" stroke="#ffffff" stroke-width="0.2">0.81</text>
<text x="453.45" y="415.31" font-size="7.90" text-anchor="middle" fill="#ffffff" stroke="#ffffff" stroke-width="0.2">0.86</text>
<text x="479.35" y="415.31" font-size="7.90" text-anchor="middle" fill="#ffffff" stroke="#ffffff" stroke-width="0.2">0.87</text>
<text x="505.25" y="415.31" font-size="7.90" text-anchor="middle" fill="#ffffff" stroke="#ffffff" stroke-width="0.2">0.88</text>
<text x="531.15" y="415.31" font-size="7.90" text-anchor="middle" fill="#ffffff" stroke="#ffffff" stroke-width="0.2">0.88</text>
<text x="401.65" y="441.36" font-size="7.90" text-anchor="middle" fill="#ffffff" stroke="#ffffff" stroke-width="0.2">0.79</text>
<text x="427.55" y="441.36" font-size="7.90" text-anchor="middle" fill="#ffffff" stroke="#ffffff" stroke-width="0.2">0.82</text>
<text x="453.45" y="441.36" font-size="7.90" text-anchor="middle" fill="#ffffff" stroke="#ffffff" stroke-width="0.2">0.88</text>
<text x="479.35" y="441.36" font-size="7.90" text-anchor="middle" fill="#ffffff" stroke="#ffffff" stroke-width="0.2">0.89</text>
<text x="505.25" y="441.36" font-size="7.90" text-anchor="middle" fill="#ffffff" stroke="#ffffff" stroke-width="0.2">0.89</text>
<text x="531.15" y="441.36" font-size="7.90" text-anchor="middle" fill="#ffffff" stroke="#ffffff" stroke-width="0.2">0.89</text>
<text x="401.65" y="467.41" font-size="7.90" text-anchor="middle" fill="#ffffff" stroke="#ffffff" stroke-width="0.2">0.79</text>
<text x="427.55" y="467.41" font-size="7.90" text-anchor="middle" fill="#ffffff" stroke="#ffffff" stroke-width="0.2">0.84</text>
<text x="453.45" y="467.41" font-size="7.90" text-anchor="middle" fill="#ffffff" stroke="#ffffff" stroke-width="0.2">0.89</text>
<text x="479.35" y="467.41" font-size="7.90" text-anchor="middle" fill="#ffffff" stroke="#ffffff" stroke-width="0.2">0.9</text>
<text x="505.25" y="467.41" font-size="7.90" text-anchor="middle" fill="#ffffff" stroke="#ffffff" stroke-width="0.2">0.9</text>
<text x="531.15" y="467.41" font-size="7.90" text-anchor="middle" fill="#ffffff" stroke="#ffffff" stroke-width="0.2">0.9</text>
<text x="466.40" y="370.90" font-size="7.80" text-anchor="middle" fill="#262626" stroke="#262626" stroke-width="0.2">RF with &quot;ecdf&quot; features on HAR</text>
<text x="401.65" y="486.50" font-size="6.50" text-anchor="middle" fill="#262626" stroke="#262626" stroke-width="0.25">5</text>
<text x="427.55" y="486.50" font-size="6.50" text-anchor="middle" fill="#262626" stroke="#262626" stroke-width="0.25">10</text>
<text x="453.45" y="486.50" font-size="6.50" text-anchor="middle" fill="#262626" stroke="#262626" stroke-width="0.25">20</text>
<text x="479.35" y="486.50" font-size="6.50" text-anchor="middle" fill="#262626" stroke="#262626" stroke-width="0.25">30</text>
<text x="505.25" y="486.50" font-size="6.50" text-anchor="middle" fill="#262626" stroke="#262626" stroke-width="0.25">40</text>
<text x="531.15" y="486.50" font-size="6.50" text-anchor="middle" fill="#262626" stroke="#262626" stroke-width="0.25">50</text>
<text x="466.40" y="495.70" font-size="7.30" text-anchor="middle" fill="#262626" stroke="#262626" stroke-width="0.25">fs</text>
<text transform="translate(384.20,389.12) rotate(-90) scale(1,1.0)" font-size="6.50" text-anchor="middle" fill="#262626" stroke="#262626" stroke-width="0.2">1.5</text>
<text transform="translate(384.20,415.18) rotate(-90) scale(1,1.0)" font-size="6.50" text-anchor="middle" fill="#262626" stroke="#262626" stroke-width="0.2">3.0</text>
<text transform="translate(384.20,441.23) rotate(-90) scale(1,1.0)" font-size="6.50" text-anchor="middle" fill="#262626" stroke="#262626" stroke-width="0.2">4.5</text>
<text transform="translate(384.20,467.28) rotate(-90) scale(1,1.0)" font-size="6.50" text-anchor="middle" fill="#262626" stroke="#262626" stroke-width="0.2">6.0</text>
<text transform="translate(375.70,426.20) rotate(-90) scale(1,1.0)" font-size="7.30" text-anchor="middle" fill="#262626" stroke="#262626" stroke-width="0.2">win_len</text>
<text x="208" y="155.1" font-family="Liberation Serif" font-weight="bold" font-size="12.5" textLength="16.0" lengthAdjust="spacingAndGlyphs" fill="#111">(a)</text>
<text x="227.5" y="155.1" font-family="Liberation Serif" font-size="11.8" textLength="111.5" lengthAdjust="spacingAndGlyphs" fill="#111">Linear Regression (LR)</text>
<text x="190.5" y="338.8" font-family="Liberation Serif" font-weight="bold" font-size="12.5" textLength="16.5" lengthAdjust="spacingAndGlyphs" fill="#111">(b)</text>
<text x="211" y="338.8" font-family="Liberation Serif" font-size="11.8" textLength="146.0" lengthAdjust="spacingAndGlyphs" fill="#111">Multi-layer Perceptron (MLP)</text>
<text x="215.8" y="522.1" font-family="Liberation Serif" font-weight="bold" font-size="12.5" textLength="13.7" lengthAdjust="spacingAndGlyphs" fill="#111">(c)</text>
<text x="234" y="522.1" font-family="Liberation Serif" font-size="11.8" textLength="97.5" lengthAdjust="spacingAndGlyphs" fill="#111">Random Forest (RF)</text>
</svg>
</body></html>
